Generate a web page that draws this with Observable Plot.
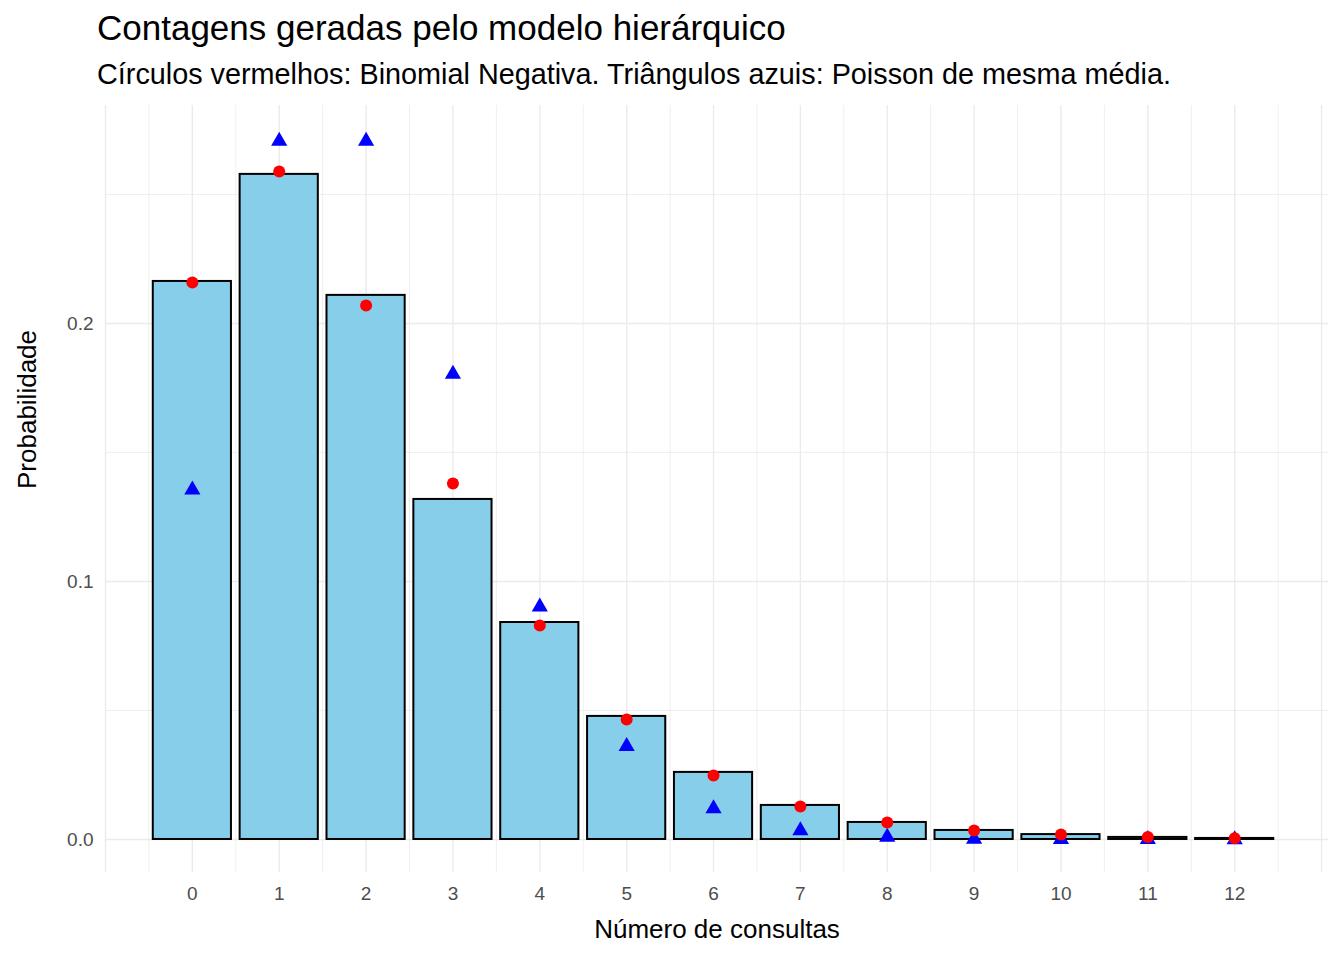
<!DOCTYPE html>
<html><head><meta charset="utf-8">
<script src="https://cdn.jsdelivr.net/npm/d3@7"></script>
<script src="https://cdn.jsdelivr.net/npm/@observablehq/plot@0.6"></script>
<style>
body{margin:0;background:#fff;font-family:"Liberation Sans",Arial,sans-serif;}
#wrap{position:relative;width:1344px;height:960px;}
.t{position:absolute;left:97px;white-space:nowrap;color:#000;}
</style></head><body>
<div id="wrap">
<div class="t" style="top:8px;font-size:35px;">Contagens geradas pelo modelo hierárquico</div>
<div class="t" style="top:58px;font-size:28.8px;">Círculos vermelhos: Binomial Negativa. Triângulos azuis: Poisson de mesma média.</div>
<div id="chart"></div>
</div>
<script>
const counts = [0,1,2,3,4,5,6,7,8,9,10,11,12];
const simulated = [0.2163,0.2578,0.2109,0.1318,0.0841,0.0477,0.0260,0.0132,0.0066,0.0035,0.0019,0.0008,0.0004];
const negbin = [0.2159,0.2589,0.2070,0.1380,0.0829,0.0465,0.0248,0.0128,0.0066,0.0035,0.0019,0.0010,0.0005];
const poisson = [0.1355,0.2707,0.2707,0.1804,0.0902,0.0361,0.0120,0.0034,0.0009,0.0002,0.00005,0.00001,0.0];
const yTicks = [0.0,0.1,0.2];
const yMinor = [0.05,0.15,0.25];
const data = counts.map((k,i)=>({k, sim:simulated[i], nb:negbin[i], po:poisson[i]}));
const vgrid = d3.range(-1,13.5,0.5);
const plot = Plot.plot({
  width:1344, height:960,
  marginLeft:105, marginRight:16, marginTop:105, marginBottom:88,
  style:{fontFamily:"Liberation Sans, Arial, sans-serif", background:"transparent"},
  x:{domain:[-1,13.08]},
  y:{domain:[-0.0128,0.2845]},
  marks:[
    Plot.ruleX(vgrid,{x:d=>d, stroke:"#ebebeb", strokeWidth:d=>Number.isInteger(d)?1.4:0.8}),
    Plot.ruleY(yMinor,{y:d=>d, stroke:"#ebebeb", strokeWidth:0.8}),
    Plot.ruleY(yTicks,{y:d=>d, stroke:"#ebebeb", strokeWidth:1.4}),
    Plot.axisX({ticks:counts, tickFormat:d=>String(d), tickSize:0, tickPadding:14, fontSize:19, color:"#4d4d4d", label:null}),
    Plot.axisY({ticks:yTicks, tickFormat:d=>d.toFixed(1), tickSize:0, tickPadding:12, fontSize:19, color:"#4d4d4d", label:null}),
    Plot.text(["Número de consultas"],{frameAnchor:"bottom", dy:65, fontSize:26, fill:"#000"}),
    Plot.text(["Probabilidade"],{frameAnchor:"left", dx:-78, rotate:-90, fontSize:26, fill:"#000"}),
    Plot.rect(data,{x1:d=>d.k-0.45, x2:d=>d.k+0.45, y1:0, y2:"sim", fill:"#87CEEB", stroke:"#000", strokeWidth:2}),
    Plot.dot(data,{x:"k", y:"po", symbol:"triangle", r:6, fill:"blue", stroke:"none"}),
    Plot.dot(data,{x:"k", y:"nb", r:6, fill:"red", stroke:"none"})
  ]
});
document.getElementById("chart").appendChild(plot);
</script>
</body></html>
